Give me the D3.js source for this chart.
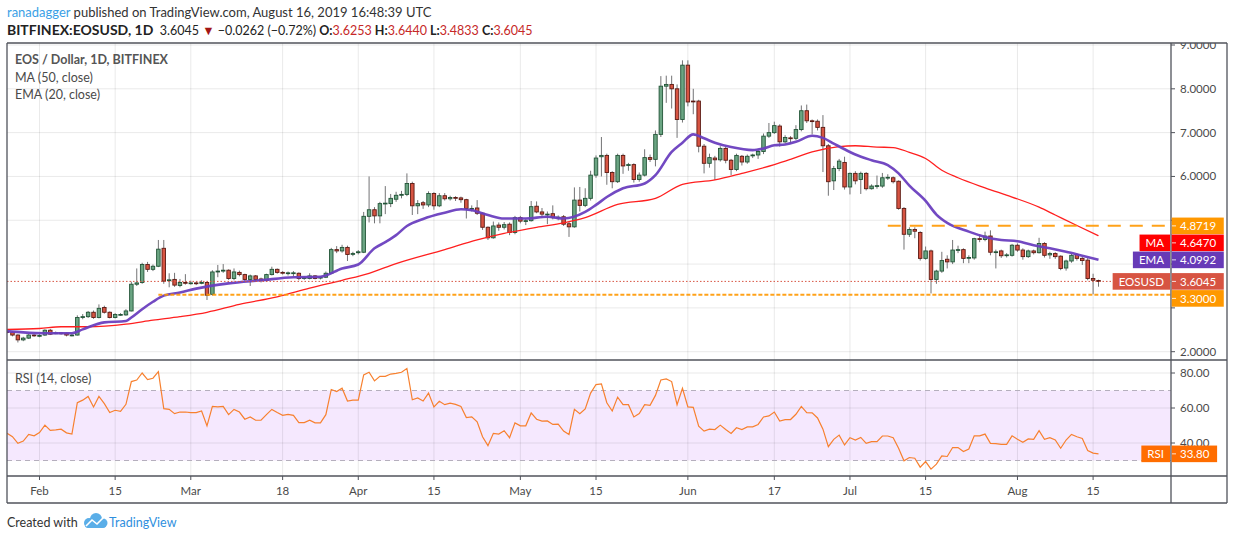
<!DOCTYPE html>
<html>
<head>
<meta charset="utf-8">
<script src="https://cdn.jsdelivr.net/npm/d3@7/dist/d3.min.js"></script>
<style>
  html, body { margin: 0; padding: 0; background: #fff; }
  svg text { font-family: Lato, "Open Sans", sans-serif; }
</style>
</head>
<body>
<div id="chart"></div>
<script>
// EOS / Dollar, 1D, Bitfinex - one candle per day, 26 Jan .. 16 Aug 2019
const firstDay = new Date(Date.UTC(2019, 0, 26));
const lastDay = new Date(Date.UTC(2019, 7, 16));

const opens = [
  2.46, 2.44, 2.38, 2.27, 2.31, 2.38, 2.36, 2.38, 2.49, 2.42,
  2.43, 2.42, 2.38, 2.38, 2.78, 2.80, 2.90, 2.78, 3.01, 2.90,
  2.78, 2.85, 2.84, 2.93, 3.54, 3.58, 3.99, 3.88, 3.95, 4.36,
  3.62, 3.65, 3.51, 3.58, 3.57, 3.57, 3.56, 3.58, 3.31, 3.82,
  3.84, 3.86, 3.67, 3.81, 3.76, 3.65, 3.73, 3.66, 3.63, 3.76,
  3.88, 3.81, 3.80, 3.80, 3.79, 3.68, 3.67, 3.73, 3.68, 3.70,
  3.79, 4.33, 4.30, 4.38, 4.23, 4.26, 4.27, 5.09, 5.24, 5.10,
  5.38, 5.38, 5.48, 5.57, 5.59, 5.84, 5.33, 5.40, 5.35, 5.61,
  5.33, 5.56, 5.49, 5.52, 5.51, 5.47, 5.27, 5.28, 5.16, 4.84,
  4.60, 4.89, 4.84, 4.91, 4.72, 5.06, 4.99, 4.99, 5.32, 5.19,
  5.14, 5.15, 5.06, 5.08, 4.92, 4.85, 5.46, 5.34, 5.50, 6.03,
  6.45, 6.48, 6.09, 5.88, 6.48, 6.25, 6.27, 5.93, 6.03, 6.43,
  6.39, 6.96, 8.06, 8.10, 8.00, 7.30, 8.54, 7.72, 7.72, 6.69,
  6.30, 6.42, 6.38, 6.64, 6.37, 6.16, 6.46, 6.33, 6.47, 6.49,
  6.57, 6.92, 7.00, 7.15, 6.79, 6.88, 6.87, 7.07, 7.50, 7.27,
  7.26, 7.12, 6.70, 5.90, 6.18, 6.32, 5.76, 6.07, 5.93, 6.07,
  5.72, 5.78, 5.78, 5.97, 5.97, 5.89, 5.27, 4.68, 4.79, 4.72,
  4.13, 4.30, 3.65, 3.84, 4.11, 4.05, 4.32, 4.33, 4.14, 4.14,
  4.58, 4.56, 4.64, 4.27, 4.30, 4.20, 4.20, 4.43, 4.32, 4.17,
  4.30, 4.26, 4.47, 4.21, 4.24, 4.18, 3.91, 4.07, 4.22, 4.13,
  4.09, 3.67, 3.6253
];
const highs = [
  2.49, 2.47, 2.40, 2.34, 2.41, 2.40, 2.40, 2.51, 2.52, 2.46,
  2.45, 2.44, 2.41, 2.83, 2.86, 2.93, 2.94, 3.08, 3.05, 2.92,
  2.88, 2.88, 2.97, 3.60, 3.90, 4.03, 4.05, 3.99, 4.55, 4.55,
  3.79, 3.80, 3.66, 3.77, 3.62, 3.60, 3.63, 3.60, 3.86, 3.98,
  4.00, 3.88, 3.90, 3.85, 3.78, 3.76, 3.75, 3.69, 3.78, 3.94,
  3.90, 3.84, 3.83, 3.84, 3.81, 3.72, 3.79, 3.75, 3.72, 3.83,
  4.37, 4.41, 4.44, 4.42, 4.28, 4.32, 5.19, 6.00, 5.30, 5.42,
  5.78, 5.60, 5.65, 5.67, 6.07, 5.88, 5.46, 5.44, 5.66, 5.64,
  5.62, 5.62, 5.56, 5.55, 5.54, 5.49, 5.34, 5.46, 5.18, 4.86,
  4.97, 4.95, 4.96, 4.95, 5.10, 5.10, 5.03, 5.44, 5.43, 5.28,
  5.20, 5.34, 5.11, 5.12, 4.96, 5.75, 5.76, 5.73, 6.13, 6.48,
  6.90, 6.52, 6.12, 6.52, 6.52, 6.31, 6.30, 6.09, 6.62, 6.50,
  7.05, 8.29, 8.30, 8.30, 8.10, 8.65, 8.65, 8.00, 7.75, 6.74,
  6.52, 6.47, 6.69, 6.68, 6.40, 6.52, 6.49, 6.50, 6.52, 6.61,
  6.98, 7.22, 7.25, 7.19, 6.94, 6.92, 7.17, 7.62, 7.64, 7.30,
  7.30, 7.40, 6.74, 6.24, 6.40, 6.45, 6.09, 6.12, 6.11, 6.10,
  5.82, 6.02, 6.08, 6.05, 6.00, 5.91, 5.30, 4.84, 4.84, 4.75,
  4.40, 4.33, 3.87, 4.28, 4.20, 4.55, 4.42, 4.36, 4.20, 4.60,
  4.68, 4.74, 4.77, 4.33, 4.33, 4.25, 4.46, 4.47, 4.36, 4.33,
  4.33, 4.60, 4.50, 4.28, 4.27, 4.20, 4.10, 4.23, 4.25, 4.16,
  4.14, 3.78, 3.6440
];
const lows = [
  2.42, 2.35, 2.21, 2.24, 2.29, 2.34, 2.33, 2.36, 2.38, 2.40,
  2.39, 2.35, 2.35, 2.37, 2.74, 2.77, 2.75, 2.76, 2.87, 2.76,
  2.76, 2.82, 2.82, 2.92, 3.50, 3.55, 3.82, 3.84, 3.93, 3.55,
  3.47, 3.48, 3.47, 3.53, 3.53, 3.52, 3.54, 3.18, 3.28, 3.70,
  3.80, 3.64, 3.63, 3.72, 3.61, 3.50, 3.61, 3.58, 3.60, 3.74,
  3.78, 3.76, 3.74, 3.72, 3.63, 3.64, 3.65, 3.65, 3.65, 3.68,
  3.77, 4.25, 4.26, 4.07, 4.18, 4.22, 4.25, 4.95, 4.93, 4.93,
  5.14, 5.30, 5.42, 5.50, 5.55, 5.12, 5.14, 5.26, 5.30, 5.24,
  5.30, 5.45, 5.45, 5.44, 5.40, 5.04, 5.20, 5.12, 4.78, 4.55,
  4.58, 4.76, 4.79, 4.66, 4.68, 4.93, 4.89, 4.97, 5.16, 5.05,
  4.91, 5.02, 5.00, 4.87, 4.62, 4.83, 5.20, 5.30, 5.45, 5.97,
  6.00, 5.81, 5.73, 5.85, 6.06, 6.13, 5.86, 5.88, 6.00, 6.33,
  6.23, 6.90, 7.68, 7.55, 6.88, 7.23, 7.60, 7.42, 6.55, 6.07,
  6.20, 5.92, 6.34, 6.30, 6.03, 6.12, 6.25, 6.29, 6.42, 6.40,
  6.51, 6.88, 6.97, 6.68, 6.76, 6.75, 6.83, 7.03, 7.22, 6.96,
  7.05, 6.10, 5.56, 5.69, 6.12, 5.70, 5.59, 5.82, 5.60, 5.68,
  5.70, 5.72, 5.74, 5.92, 5.84, 5.24, 4.33, 4.62, 4.59, 4.08,
  4.10, 3.33, 3.55, 3.80, 3.90, 4.00, 4.25, 4.02, 4.02, 4.10,
  4.50, 4.52, 4.20, 3.90, 4.14, 4.15, 4.17, 4.28, 4.10, 4.14,
  4.22, 4.24, 4.15, 4.12, 4.12, 3.86, 3.85, 4.03, 4.08, 3.98,
  3.63, 3.31, 3.4833
];
const closes = [
  2.44, 2.38, 2.27, 2.31, 2.38, 2.37, 2.37, 2.49, 2.40, 2.43,
  2.42, 2.38, 2.38, 2.78, 2.80, 2.90, 2.78, 2.99, 2.90, 2.78,
  2.85, 2.85, 2.93, 3.54, 3.57, 3.99, 3.88, 3.95, 4.34, 3.61,
  3.64, 3.52, 3.58, 3.57, 3.57, 3.56, 3.58, 3.29, 3.82, 3.84,
  3.86, 3.67, 3.82, 3.76, 3.65, 3.73, 3.65, 3.63, 3.76, 3.88,
  3.81, 3.80, 3.80, 3.80, 3.67, 3.69, 3.73, 3.67, 3.70, 3.79,
  4.33, 4.30, 4.38, 4.22, 4.24, 4.28, 5.09, 5.24, 5.10, 5.38,
  5.39, 5.50, 5.57, 5.59, 5.84, 5.33, 5.38, 5.35, 5.61, 5.33,
  5.56, 5.49, 5.52, 5.51, 5.47, 5.27, 5.27, 5.16, 4.84, 4.60,
  4.87, 4.84, 4.90, 4.72, 5.06, 4.98, 4.99, 5.31, 5.19, 5.14,
  5.14, 5.06, 5.07, 4.91, 4.85, 5.46, 5.34, 5.50, 6.03, 6.42,
  6.48, 6.09, 5.88, 6.48, 6.24, 6.27, 5.93, 6.03, 6.43, 6.39,
  6.96, 8.06, 8.10, 8.00, 7.30, 8.54, 7.70, 7.71, 6.69, 6.30,
  6.43, 6.38, 6.64, 6.37, 6.16, 6.48, 6.33, 6.46, 6.49, 6.57,
  6.92, 7.00, 7.16, 6.79, 6.89, 6.87, 7.07, 7.50, 7.27, 7.26,
  7.12, 6.70, 5.88, 6.18, 6.35, 5.76, 6.07, 5.90, 6.07, 5.72,
  5.78, 5.79, 5.97, 5.98, 5.88, 5.27, 4.68, 4.79, 4.75, 4.13,
  4.30, 3.65, 3.84, 4.08, 4.05, 4.32, 4.33, 4.13, 4.15, 4.58,
  4.56, 4.64, 4.27, 4.28, 4.19, 4.21, 4.43, 4.32, 4.17, 4.30,
  4.26, 4.47, 4.20, 4.24, 4.17, 3.90, 4.07, 4.20, 4.13, 4.08,
  3.67, 3.6307, 3.6045
];

// RSI (14, close), one value per candle
const rsiValues = [
  45.5, 43.6, 39.8, 41.1, 44.9, 44.1, 46.0, 50.2, 47.2, 47.5,
  47.9, 45.8, 45.1, 63.0, 64.5, 66.6, 60.6, 66.6, 62.5, 57.4,
  58.7, 58.1, 62.1, 75.1, 76.0, 80.0, 76.2, 77.0, 80.8, 59.6,
  59.2, 56.8, 57.7, 57.7, 57.4, 57.4, 58.3, 49.8, 60.9, 60.6,
  60.9, 56.2, 59.2, 57.7, 53.6, 54.9, 53.0, 53.0, 56.2, 59.2,
  57.4, 55.8, 56.4, 55.8, 51.7, 51.7, 53.0, 51.5, 51.5, 56.2,
  70.6, 69.4, 71.3, 64.0, 64.5, 64.5, 78.9, 80.4, 75.5, 78.1,
  78.1, 79.4, 79.8, 80.4, 82.6, 64.7, 65.7, 64.0, 68.5, 60.6,
  63.8, 61.9, 62.8, 62.1, 60.9, 54.5, 54.9, 52.1, 43.6, 38.5,
  45.5, 45.1, 47.0, 43.0, 51.5, 49.8, 49.8, 57.2, 53.6, 52.5,
  52.6, 50.6, 50.8, 46.8, 44.9, 59.2, 56.8, 59.5, 68.5, 73.4,
  73.8, 63.0, 58.3, 66.2, 61.9, 61.9, 54.9, 56.8, 61.9, 61.5,
  67.2, 76.0, 76.6, 75.1, 61.9, 71.3, 60.6, 60.4, 49.6, 46.8,
  47.9, 47.7, 50.2, 47.7, 45.5, 48.7, 47.7, 49.2, 49.2, 50.6,
  54.9, 55.5, 57.7, 52.5, 53.4, 53.4, 56.4, 60.9, 57.4, 57.2,
  54.3, 47.9, 37.9, 42.1, 44.5, 38.9, 43.0, 41.7, 43.2, 39.8,
  40.8, 40.8, 44.0, 44.0, 43.0, 37.0, 29.8, 31.7, 31.3, 26.2,
  29.4, 25.1, 27.9, 32.6, 32.3, 37.4, 37.4, 35.1, 36.6, 44.1,
  44.1, 45.1, 39.8, 39.6, 39.2, 39.2, 44.1, 42.1, 40.4, 42.3,
  42.1, 47.0, 42.1, 43.0, 41.7, 37.0, 41.7, 44.9, 43.6, 42.6,
  35.7, 34.2, 33.8
];

// EMA (20) and MA (50); day = days after firstDay
const emaDays = [0, 3, 7, 12, 14, 18, 22, 23, 25, 27, 29, 32, 35, 41, 47, 53, 58, 62, 65, 68, 70, 72, 74, 77, 81, 84, 86, 89, 92, 96, 100, 103, 107, 109, 111, 114, 118, 120, 123, 125, 127, 129, 131, 134, 138, 140, 142, 144, 146, 149, 151, 153, 155, 157, 160, 163, 165, 167, 170, 172, 174, 178, 181, 184, 187, 190, 193, 196, 199, 202];
const emaValues = [2.47, 2.44, 2.42, 2.42, 2.51, 2.67, 2.70, 2.78, 2.97, 3.14, 3.28, 3.35, 3.44, 3.56, 3.63, 3.70, 3.71, 3.90, 3.99, 4.36, 4.50, 4.66, 4.87, 5.03, 5.17, 5.25, 5.23, 5.12, 5.04, 5.04, 5.08, 5.04, 5.19, 5.35, 5.53, 5.73, 5.84, 6.03, 6.56, 6.77, 6.96, 6.87, 6.77, 6.67, 6.60, 6.64, 6.71, 6.73, 6.79, 6.93, 6.88, 6.75, 6.62, 6.50, 6.37, 6.26, 6.07, 5.79, 5.44, 5.13, 4.94, 4.74, 4.62, 4.55, 4.52, 4.43, 4.36, 4.28, 4.19, 4.0992];
const maDays = [0, 6, 10, 15, 22, 27, 32, 37, 43, 50, 56, 62, 67, 72, 81, 87, 92, 98, 103, 107, 113, 120, 125, 131, 136, 142, 145, 149, 154, 157, 161, 164, 167, 170, 173, 176, 181, 186, 191, 194, 198, 202];
const maValues = [2.51, 2.53, 2.57, 2.57, 2.63, 2.72, 2.80, 2.90, 3.08, 3.25, 3.45, 3.63, 3.79, 4.01, 4.33, 4.55, 4.70, 4.84, 4.94, 5.06, 5.36, 5.50, 5.82, 5.92, 6.07, 6.27, 6.39, 6.56, 6.68, 6.70, 6.67, 6.66, 6.55, 6.41, 6.14, 5.97, 5.74, 5.53, 5.30, 5.12, 4.88, 4.647];

// horizontal drawings
const levelValues = [4.8719, 3.3];
const levelStarts = ['2019-07-08', '2019-02-23'];

const tickDates = ['2019-02-01', '2019-02-15', '2019-03-01', '2019-03-18', '2019-04-01', '2019-04-15', '2019-05-01', '2019-05-15', '2019-06-01', '2019-06-17', '2019-07-01', '2019-07-15', '2019-08-01', '2019-08-15'];
const tickLabels = ['Feb', '15', 'Mar', '18', 'Apr', '15', 'May', '15', 'Jun', '17', 'Jul', '15', 'Aug', '15'];
const priceTicks = [2, 3, 4, 5, 6, 7, 8, 9];
const rsiTicks = [40, 60, 80];

// ---------------------------------------------------------------
const parse = d3.utcParse('%Y-%m-%d');
const days = d3.utcDay.range(firstDay, d3.utcDay.offset(lastDay, 1));
const dayDate = n => d3.utcDay.offset(firstDay, n);

const box = {left: 7, right: 1171, outer: 1227, top: 43, mid: 360, rsiBottom: 476, bottom: 503};
const frameColor = '#50535b', gridColor = 'rgba(0,0,0,0.085)', textColor = '#4a4a4a';
const upFill = '#6ba583', upLine = '#225437', downFill = '#d75442', downLine = '#5b1a13';

const x = d3.scaleUtc()
    .domain([firstDay, dayDate(201)])
    .range([7.08, 1093.1]);
const y = d3.scaleLinear().domain([2, 9]).range([351.7, 45]);
const yr = d3.scaleLinear().domain([30, 80]).range([460.5, 373]);

const svg = d3.select('#chart').append('svg')
    .attr('width', 1234)
    .attr('height', 540);

let defs = svg.append('defs');
defs.append('clipPath').attr('id', 'main-clip').append('rect')
    .attr('x', box.left).attr('y', box.top)
    .attr('width', box.right - box.left).attr('height', box.mid - box.top);
defs.append('clipPath').attr('id', 'rsi-clip').append('rect')
    .attr('x', box.left).attr('y', box.mid)
    .attr('width', box.right - box.left).attr('height', box.rsiBottom - box.mid);
defs.append('clipPath').attr('id', 'axis-clip').append('rect')
    .attr('x', box.right).attr('y', box.top)
    .attr('width', box.outer - box.right).attr('height', box.mid - box.top);

// RSI band
svg.append('rect')
    .attr('x', box.left).attr('width', box.right - box.left)
    .attr('y', yr(70)).attr('height', yr(30) - yr(70))
    .attr('fill', '#f5e8fe');

// grid
let grid = svg.append('g');
grid.selectAll('line.v').data(tickDates).join('line')
    .attr('class', 'v')
    .attr('x1', d => x(parse(d))).attr('x2', d => x(parse(d)))
    .attr('y1', box.top).attr('y2', box.rsiBottom)
    .attr('stroke', gridColor);
grid.selectAll('line.h').data(priceTicks).join('line')
    .attr('class', 'h')
    .attr('x1', box.left).attr('x2', box.right)
    .attr('y1', d => y(d)).attr('y2', d => y(d))
    .attr('stroke', gridColor);
grid.selectAll('line.r').data(rsiTicks).join('line')
    .attr('class', 'r')
    .attr('x1', box.left).attr('x2', box.right)
    .attr('y1', d => yr(d)).attr('y2', d => yr(d))
    .attr('stroke', gridColor);

svg.selectAll('line.band').data([70, 30]).join('line')
    .attr('class', 'band')
    .attr('x1', box.left).attr('x2', box.right)
    .attr('y1', d => yr(d)).attr('y2', d => yr(d))
    .attr('stroke', '#b5afbd').attr('stroke-dasharray', '5,4');

// candles
let main = svg.append('g').attr('clip-path', 'url(#main-clip)');
let candles = main.selectAll('g.candle').data(days).join('g').attr('class', 'candle');
candles.append('line')
    .attr('x1', d => x(d)).attr('x2', d => x(d))
    .attr('y1', (d, i) => y(highs[i])).attr('y2', (d, i) => y(lows[i]))
    .attr('stroke', '#737375').attr('stroke-width', 1);
candles.append('rect')
    .attr('x', d => x(d) - 1.75)
    .attr('width', 3.5)
    .attr('y', (d, i) => y(Math.max(opens[i], closes[i])))
    .attr('height', (d, i) => Math.max(0.8, Math.abs(y(opens[i]) - y(closes[i]))))
    .attr('fill', (d, i) => closes[i] < opens[i] ? downFill : upFill)
    .attr('stroke', (d, i) => closes[i] < opens[i] ? downLine : upLine)
    .attr('stroke-width', 0.9);

// moving averages
let maLine = d3.line().curve(d3.curveMonotoneX)
    .x(d => x(dayDate(d[0]))).y(d => y(d[1]));
main.append('path')
    .datum(d3.zip(maDays, maValues))
    .attr('d', maLine)
    .attr('fill', 'none').attr('stroke', '#ff1f1f').attr('stroke-width', 1.3);
main.append('path')
    .datum(d3.zip(emaDays, emaValues))
    .attr('d', maLine)
    .attr('fill', 'none').attr('stroke', '#6a3fbf').attr('stroke-width', 2.6)
    .attr('stroke-opacity', 0.95);

// last price line
main.append('line')
    .attr('x1', box.left).attr('x2', box.right)
    .attr('y1', y(closes[closes.length - 1])).attr('y2', y(closes[closes.length - 1]))
    .attr('stroke', '#d75442').attr('stroke-width', 1).attr('stroke-dasharray', '1.5,2');

// support / resistance drawings
main.selectAll('line.level').data(levelValues).join('line')
    .attr('class', 'level')
    .attr('x1', (d, i) => x(parse(levelStarts[i]))).attr('x2', box.right)
    .attr('y1', d => y(d)).attr('y2', d => y(d))
    .attr('stroke', '#ff9800').attr('stroke-opacity', 0.9).attr('stroke-width', 2)
    .attr('stroke-dasharray', (d, i) => i === 0 ? '13,9' : '4,2');

// RSI line
svg.append('g').attr('clip-path', 'url(#rsi-clip)')
    .append('path')
    .datum(rsiValues)
    .attr('d', d3.line().x((d, i) => x(days[i])).y(d => yr(d)))
    .attr('fill', 'none').attr('stroke', '#f7802f').attr('stroke-width', 1.2);

// price tags: stack them downwards so they do not cover each other
let tags = [
    {v: levelValues[0], color: '#ff9800', name: null},
    {v: maValues[maValues.length - 1], color: '#ff0000', name: 'MA'},
    {v: emaValues[emaValues.length - 1], color: '#673ab7', name: 'EMA'},
    {v: closes[closes.length - 1], color: '#d75442', name: 'EOSUSD'},
    {v: levelValues[1], color: '#ff9800', name: null}
];
let prevY = -Infinity;
tags.forEach(function (t) {
    t.y = Math.max(y(t.v), prevY + 17);
    prevY = t.y;
});

// price axis (labels hidden by a tag are left out, as on the chart)
let visibleTicks = priceTicks.filter(p => tags.every(t => Math.abs(y(p) - t.y) > 14));
let axis = svg.append('g').attr('clip-path', 'url(#axis-clip)');
axis.selectAll('text').data(visibleTicks).join('text')
    .attr('x', 1180).attr('y', d => y(d)).attr('dy', '0.35em')
    .attr('font-size', 11.5).attr('fill', textColor)
    .text(d => d.toFixed(4));
axis.selectAll('line').data(priceTicks).join('line')
    .attr('x1', box.right).attr('x2', box.right + 4)
    .attr('y1', d => y(d)).attr('y2', d => y(d))
    .attr('stroke', frameColor);

svg.selectAll('text.rsi-tick').data(rsiTicks).join('text')
    .attr('class', 'rsi-tick')
    .attr('x', 1180).attr('y', d => yr(d)).attr('dy', '0.35em')
    .attr('font-size', 11.5).attr('fill', textColor)
    .text(d => d.toFixed(2));
svg.selectAll('line.rsi-tick').data(rsiTicks).join('line')
    .attr('class', 'rsi-tick')
    .attr('x1', box.right).attr('x2', box.right + 4)
    .attr('y1', d => yr(d)).attr('y2', d => yr(d))
    .attr('stroke', frameColor);

// time axis
svg.selectAll('text.time').data(tickDates).join('text')
    .attr('class', 'time')
    .attr('x', d => x(parse(d))).attr('y', 491).attr('dy', '0.35em')
    .attr('text-anchor', 'middle')
    .attr('font-size', 11.5).attr('fill', textColor)
    .text((d, i) => tickLabels[i]);
svg.selectAll('line.time').data(tickDates).join('line')
    .attr('class', 'time')
    .attr('x1', d => x(parse(d))).attr('x2', d => x(parse(d)))
    .attr('y1', box.rsiBottom).attr('y2', box.rsiBottom + 4)
    .attr('stroke', frameColor);

// frame
let frame = svg.append('g').attr('stroke', frameColor).attr('stroke-width', 1.3);
[box.top, box.mid, box.rsiBottom, box.bottom].forEach(function (yy) {
    frame.append('line').attr('x1', box.left).attr('x2', box.outer).attr('y1', yy).attr('y2', yy);
});
[box.left, box.right, box.outer].forEach(function (xx) {
    frame.append('line').attr('x1', xx).attr('x2', xx).attr('y1', box.top).attr('y2', box.bottom);
});

function tag(value, yc, color, name, digits) {
    let g = svg.append('g');
    let valueText = g.append('text')
        .attr('x', 1180).attr('y', yc).attr('dy', '0.36em')
        .attr('font-size', 11.5).attr('fill', '#fff')
        .text(value.toFixed(digits));
    let w = valueText.node().getComputedTextLength();
    g.insert('rect', 'text')
        .attr('x', box.right + 0.7).attr('y', yc - 8.3)
        .attr('width', w + 16).attr('height', 16.6)
        .attr('fill', color);
    g.append('line')
        .attr('x1', box.right + 1).attr('x2', box.right + 5)
        .attr('y1', yc).attr('y2', yc)
        .attr('stroke', '#fff').attr('stroke-opacity', 0.8);
    if (name) {
        let nameText = g.append('text')
            .attr('y', yc).attr('dy', '0.36em')
            .attr('font-size', 11.5).attr('fill', '#fff')
            .attr('text-anchor', 'middle')
            .text(name);
        let nw = nameText.node().getComputedTextLength() + 12;
        nameText.attr('x', box.right - 1 - nw / 2);
        g.insert('rect', 'text')
            .attr('x', box.right - 1 - nw).attr('y', yc - 8.3)
            .attr('width', nw).attr('height', 16.6)
            .attr('fill', color);
    }
}
tags.forEach(t => tag(t.v, t.y, t.color, t.name, 4));
tag(rsiValues[rsiValues.length - 1], yr(rsiValues[rsiValues.length - 1]), '#ff6d00', 'RSI', 2);

// legends
let legend = svg.append('g').attr('font-size', 12.5).attr('fill', '#4a4a4a');
legend.append('text').attr('x', 15).attr('y', 64).attr('font-weight', 'bold').attr('fill', '#555')
    .text('EOS / Dollar, 1D, BITFINEX');
legend.append('text').attr('x', 15).attr('y', 82).text('MA (50, close)');
legend.append('text').attr('x', 15).attr('y', 99).text('EMA (20, close)');
legend.append('text').attr('x', 15).attr('y', 383).text('RSI (14, close)');

// header
let h1 = svg.append('text').attr('x', 7).attr('y', 17).attr('font-size', 13).attr('fill', '#333');
h1.append('tspan').attr('fill', '#3a9fe6').text('ranadagger');
h1.append('tspan').text(' published on TradingView.com, August 16, 2019 16:48:39 UTC');

let h2 = svg.append('text').attr('x', 7).attr('y', 35).attr('font-size', 12.5).attr('fill', '#222');
h2.append('tspan').attr('font-weight', 'bold').attr('font-size', 14).text('BITFINEX:EOSUSD, 1D');
h2.append('tspan').text('\u00a0 3.6045 ');
h2.append('tspan').attr('fill', '#a31515').text('\u25bc');
h2.append('tspan').text(' \u22120.0262 (\u22120.72%) ');
[['O:', '3.6253'], ['H:', '3.6440'], ['L:', '3.4833'], ['C:', '3.6045']].forEach(function (p, i) {
    h2.append('tspan').attr('font-weight', 'bold').text((i ? ' ' : '') + p[0]);
    h2.append('tspan').attr('fill', '#c62828').text(p[1]);
});

// footer
svg.append('text').attr('x', 7).attr('y', 527).attr('font-size', 12.5).attr('fill', '#333')
    .text('Created with');
let logo = svg.append('g').attr('fill', '#5aaee8');
[[89, 523, 5], [96, 519, 6], [103, 523, 4.5]].forEach(function (c) {
    logo.append('circle').attr('cx', c[0]).attr('cy', c[1]).attr('r', c[2]);
});
logo.append('rect').attr('x', 85).attr('y', 522).attr('width', 21).attr('height', 6).attr('rx', 3);
logo.append('path').attr('d', 'M86,526 L92,520 L97,524 L104,517')
    .attr('fill', 'none').attr('stroke', '#fff').attr('stroke-width', 1.6);
svg.append('text').attr('x', 109).attr('y', 527).attr('font-size', 12.5).attr('fill', '#2f8fde')
    .text('TradingView');
</script>
</body>
</html>
